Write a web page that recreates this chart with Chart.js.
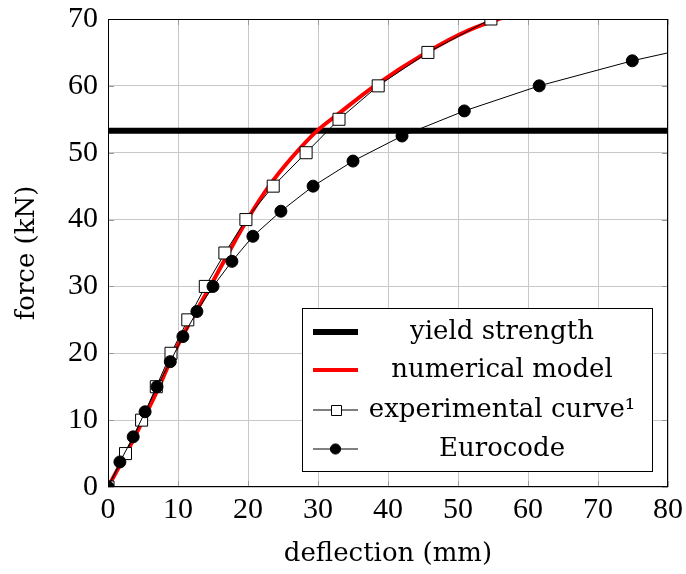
<!DOCTYPE html>
<html><head><meta charset="utf-8">
<script src="https://cdn.jsdelivr.net/npm/chart.js@4"></script>
<style>html,body{margin:0;padding:0;background:#fff}#wrap{width:686px;height:574px}</style>
</head><body><div id="wrap"><canvas id="c" width="686" height="574"></canvas></div>
<script>
const xTickValues = [0, 10, 20, 30, 40, 50, 60, 70, 80];
const yTickValues = [0, 10, 20, 30, 40, 50, 60, 70];
const xTitle = 'deflection (mm)';
const yTitle = 'force (kN)';

const yieldLabel = 'yield strength';
const yieldX = [0, 80];
const yieldY = [53.3, 53.3];

const numLabel = 'numerical model';
const numX = [0, 2.6, 5.0, 7.3, 9.4, 11.9, 14.6, 17.2, 19.9, 23.0, 26.2, 29.9, 32.9, 38.1, 45.5, 51.5, 57.5];
const numY = [0, 5, 10, 15, 20, 25, 30, 35, 40, 45, 49.2, 53.3, 55.8, 60, 65, 68.3, 70.6];

const expLabel = 'experimental curve\u00B9';
const expX = [0, 2.5, 4.8, 6.9, 9.0, 11.4, 13.9, 16.7, 19.7, 23.6, 28.3, 33.0, 38.6, 45.7, 54.7];
const expY = [0, 5, 10, 15, 20, 25, 30, 35, 40, 45, 50, 55, 60, 65, 70];

const euroLabel = 'Eurocode';
const euroX = [0, 1.7, 3.6, 5.3, 7.0, 8.9, 10.7, 12.7, 15.0, 17.7, 20.7, 24.7, 29.3, 35.0, 42.0, 50.9, 61.6, 74.9, 91.0];
const euroY = [0, 3.75, 7.5, 11.25, 15, 18.75, 22.5, 26.25, 30, 33.75, 37.5, 41.25, 45, 48.75, 52.5, 56.25, 60, 63.75, 67.5];

const pts = (xs, ys) => xs.map((x, i) => ({x: x, y: ys[i]}));
const NUMFONT = '"Liberation Serif", serif';
const TXTFONT = '"DejaVu Serif", serif';

const innerTicks = {
  id: 'innerTicks',
  beforeDatasetsDraw(chart) {
    const ctx = chart.ctx, a = chart.chartArea, sx = chart.scales.x, sy = chart.scales.y;
    ctx.save();
    ctx.strokeStyle = '#999'; ctx.lineWidth = 1;
    ctx.beginPath();
    xTickValues.forEach(v => {
      const px = Math.round(sx.getPixelForValue(v)) + 0.5;
      ctx.moveTo(px, a.top); ctx.lineTo(px, a.top + 6);
      ctx.moveTo(px, a.bottom); ctx.lineTo(px, a.bottom - 6);
    });
    yTickValues.forEach(v => {
      const py = Math.round(sy.getPixelForValue(v)) + 0.5;
      ctx.moveTo(a.left, py); ctx.lineTo(a.left + 6, py);
      ctx.moveTo(a.right, py); ctx.lineTo(a.right - 6, py);
    });
    ctx.stroke();
    ctx.restore();
  }
};

const frameAndLegend = {
  id: 'frameAndLegend',
  afterDraw(chart) {
    const ctx = chart.ctx, a = chart.chartArea;
    ctx.save();
    ctx.strokeStyle = '#000'; ctx.lineWidth = 1;
    ctx.strokeRect(Math.round(a.left) + 0.5, Math.round(a.top) + 0.5, Math.round(a.right - a.left) - 1, Math.round(a.bottom - a.top) - 1);
    const L = 302, T = 308, R = 653, B = 472;
    ctx.fillStyle = '#fff';
    ctx.fillRect(L, T, R - L, B - T);
    ctx.strokeRect(L + 0.5, T + 0.5, R - L - 1, B - T - 1);
    const rowsY = [332, 370, 410, 449];
    const sx0 = 313, sx1 = 358, textX = 502, cx = (sx0 + sx1) / 2;
    ctx.font = '26px ' + TXTFONT;
    ctx.textAlign = 'center';
    ctx.textBaseline = 'middle';
    chart.data.datasets.forEach((ds, k) => {
      const y = rowsY[k];
      ctx.strokeStyle = ds.borderColor;
      ctx.lineWidth = ds.borderWidth;
      ctx.beginPath(); ctx.moveTo(sx0, y); ctx.lineTo(sx1, y); ctx.stroke();
      if (ds.pointRadius > 0) {
        ctx.fillStyle = ds.pointBackgroundColor;
        ctx.strokeStyle = '#000';
        ctx.lineWidth = 1;
        ctx.beginPath();
        const r = ds.pointRadius * 0.85;
        if (ds.pointStyle === 'rect') {
          const s = Math.round(r * Math.SQRT1_2);
          ctx.rect(Math.round(cx - s) + 0.5, Math.round(y - s) + 0.5, 2 * s, 2 * s);
        } else {
          ctx.arc(cx, y, r, 0, Math.PI * 2);
        }
        ctx.fill(); ctx.stroke();
      }
      ctx.fillStyle = '#000';
      ctx.fillText(ds.label, textX, y);
    });
    ctx.restore();
  }
};

new Chart(document.getElementById('c'), {
  type: 'scatter',
  data: {
    datasets: [
      { label: yieldLabel, data: pts(yieldX, yieldY), showLine: true, borderColor: '#000', borderWidth: 6,
        pointRadius: 0, order: 3 },
      { label: numLabel, data: pts(numX, numY), showLine: true, borderColor: '#ff0000', borderWidth: 4,
        pointRadius: 0, cubicInterpolationMode: 'monotone', order: 2 },
      { label: expLabel, data: pts(expX, expY), showLine: true, borderColor: '#000', borderWidth: 1,
        pointStyle: 'rect', pointRadius: 8.5, pointBackgroundColor: '#fff', pointBorderColor: '#000',
        pointBorderWidth: 1, order: 1 },
      { label: euroLabel, data: pts(euroX, euroY), showLine: true, borderColor: '#000', borderWidth: 1,
        pointStyle: 'circle', pointRadius: 6, pointBackgroundColor: '#000', pointBorderColor: '#000',
        pointBorderWidth: 1, order: 0 }
    ]
  },
  options: {
    responsive: false,
    devicePixelRatio: 1,
    animation: false,
    layout: { padding: { left: 0, right: 18, top: 19, bottom: 0 } },
    plugins: { legend: { display: false }, tooltip: { enabled: false } },
    scales: {
      x: {
        type: 'linear', min: 0, max: 80,
        afterBuildTicks: s => { s.ticks = xTickValues.map(v => ({value: v})); },
        afterFit: s => { s.height = 87; s.paddingLeft = 0; s.paddingRight = 0; },
        grid: { color: '#c8c8c8', lineWidth: 1, drawTicks: false },
        border: { display: false },
        ticks: { color: '#000', padding: 5, font: { family: NUMFONT, size: 30 } },
        title: { display: true, text: xTitle, color: '#000', font: { family: TXTFONT, size: 26 }, padding: { top: 0, bottom: 4 } }
      },
      y: {
        type: 'linear', min: 0, max: 70,
        afterBuildTicks: s => { s.ticks = yTickValues.map(v => ({value: v})); },
        afterFit: s => { s.width = 108; s.paddingTop = 0; s.paddingBottom = 0; },
        grid: { color: '#c8c8c8', lineWidth: 1, drawTicks: false },
        border: { display: false },
        ticks: { color: '#000', padding: 10, font: { family: NUMFONT, size: 30 } },
        title: { display: true, text: yTitle, color: '#000', font: { family: TXTFONT, size: 26 }, padding: { top: 12, bottom: 0 } }
      }
    }
  },
  plugins: [innerTicks, frameAndLegend]
});
</script></body></html>
